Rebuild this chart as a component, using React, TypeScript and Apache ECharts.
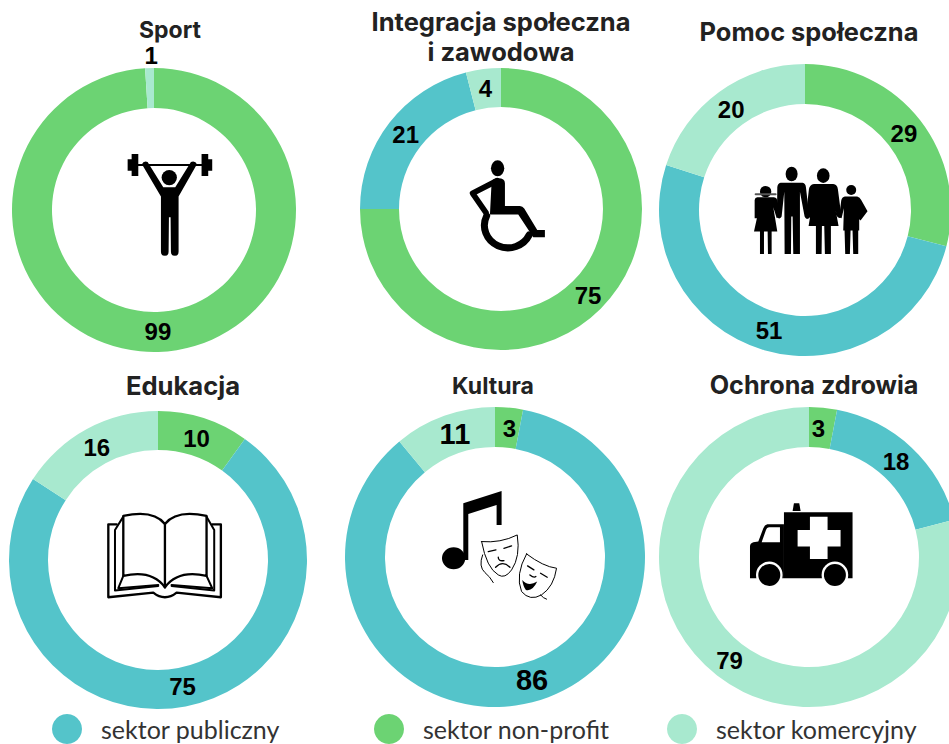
import React, { useEffect, useRef } from "react";
import * as echarts from "echarts";

const sectorNames = ["sektor non-profit", "sektor publiczny", "sektor komercyjny"];
const sectorColors = ["#6CD373", "#54C4CA", "#A8E9CF"];

const sportValues = [99, 0, 1];
const integracjaValues = [75, 21, 4];
const pomocValues = [29, 51, 20];
const edukacjaValues = [10, 75, 16];
const kulturaValues = [3, 86, 11];
const ochronaValues = [3, 18, 79];

const panelTitles = [
  "Sport",
  "Integracja społeczna\ni zawodowa",
  "Pomoc społeczna",
  "Edukacja",
  "Kultura",
  "Ochrona zdrowia",
];

type P = { d: string; fill?: string; stroke?: string; w?: number };

const circle = (cx: number, cy: number, rx: number, ry = rx) =>
  `M ${cx - rx} ${cy} A ${rx} ${ry} 0 1 1 ${cx + rx} ${cy} A ${rx} ${ry} 0 1 1 ${cx - rx} ${cy} Z`;

const K = "#000";
const W = "#fff";

const icons: { x: number; y: number; parts: P[] }[] = [
  {
    x: 100,
    y: 130,
    parts: [
      { d: "M 115 105 L 305 105", stroke: K, w: 6 },
      { d: "M 95 72 L 115 72 L 115 138 L 95 138 Z M 83 88 L 95 88 L 95 122 L 83 122 Z M 305 72 L 325 72 L 325 138 L 305 138 Z M 325 88 L 337 88 L 337 122 L 325 122 Z", fill: K },
      { d: circle(208, 143, 23), fill: K },
      { d: "M 126 103 Q 130 92 143 96 L 190 172 L 226 172 L 273 96 Q 287 92 291 103 L 236 200 L 236 365 Q 236 378 225 378 Q 213 378 213 365 L 212 262 L 207 262 L 206 365 Q 206 378 195 378 Q 183 378 183 365 L 183 200 Z", fill: K },
    ],
  },
  {
    x: 440,
    y: 140,
    parts: [
      { d: circle(173, 85, 20, 24), fill: K },
      { d: "M 172 122 L 98 160 L 138 218", stroke: K, w: 17 },
      { d: "M 155 125 Q 160 115 175 115 Q 195 115 195 130 L 195 198 L 240 198 Q 248 198 253 206 L 292 270 L 315 270 L 315 292 L 280 292 L 235 224 L 150 224 Z", fill: K },
      { d: "M 140 228 A 63 60 0 1 0 268 285", stroke: K, w: 21 },
    ],
  },
  {
    x: 740,
    y: 150,
    parts: [
      { d: circle(77, 125, 17), fill: K },
      { d: "M 47 133 L 107 133", stroke: "#555", w: 6 },
      { d: "M 52 142 L 102 142 Q 110 142 112 150 L 122 200 L 110 204 L 100 172 L 112 245 L 95 245 L 95 312 L 84 312 L 83 245 L 72 245 L 72 312 L 60 312 L 60 245 L 42 245 L 58 172 L 56 205 L 44 205 L 44 150 Q 45 142 52 142 Z", fill: K },
      { d: circle(155, 72, 18, 22), fill: K },
      { d: "M 122 98 L 188 98 Q 197 100 198 112 L 208 200 Q 208 207 201 207 Q 196 206 194 200 L 180 125 L 180 312 L 160 312 L 158 200 L 154 200 L 153 312 L 134 312 L 133 125 L 125 200 Q 122 207 116 205 Q 110 204 111 195 L 112 112 Q 113 100 122 98 Z", fill: K },
      { d: circle(250, 77, 19, 22), fill: K },
      { d: "M 222 102 L 280 102 Q 292 103 294 118 L 304 195 Q 304 204 298 204 Q 292 204 290 195 L 278 130 L 296 228 L 273 228 L 273 312 L 255 312 L 253 228 L 246 228 L 245 312 L 228 312 L 228 228 L 206 228 L 222 130 L 212 200 Q 208 207 202 205 Q 196 202 198 195 L 207 118 Q 209 104 222 102 Z", fill: K },
      { d: circle(334, 120, 15), fill: K },
      { d: "M 315 140 L 352 140 Q 360 142 364 150 L 383 184 L 362 212 L 355 205 L 358 190 L 358 242 L 355 242 L 355 312 L 340 312 L 338 242 L 332 242 L 330 312 L 316 312 L 314 242 L 310 242 L 312 175 L 305 205 Q 300 205 298 200 L 304 152 Q 306 142 315 140 Z", fill: K },
    ],
  },
  {
    x: 95,
    y: 500,
    parts: [
      { d: "M 65 73 L 40 73 L 40 292 L 175 278 Q 192 292 210 292 Q 228 292 245 278 L 378 292 L 378 73 L 352 73", stroke: K, w: 7 },
      { d: "M 85 50 L 60 90 L 60 272 L 190 258", stroke: K, w: 6 },
      { d: "M 335 50 L 358 90 L 358 272 L 230 258", stroke: K, w: 6 },
      { d: "M 85 48 Q 175 28 210 72 Q 245 28 335 48 L 335 228 Q 250 208 210 262 Q 170 208 85 228 Z", stroke: K, w: 7 },
      { d: "M 210 72 L 210 262", stroke: K, w: 7 },
      { d: "M 85 228 L 70 265 L 190 255 M 335 228 L 352 265 L 230 255", stroke: K, w: 6 },
    ],
  },
  {
    x: 430,
    y: 480,
    parts: [
      { d: circle(71, 235, 35, 33), fill: K },
      { d: "M 100 70 L 215 33 L 215 135 L 200 135 L 200 75 L 115 102 L 115 240 L 100 240 Z", fill: K },
      { d: "M 155 185 Q 212 190 262 165 Q 272 230 245 270 Q 225 298 205 285 Q 170 265 155 185 Z", fill: W, stroke: K, w: 3 },
      { d: "M 158 225 Q 145 260 165 278 Q 180 290 190 308", stroke: K, w: 3 },
      { d: "M 175 215 L 198 210 M 222 205 L 245 198 M 205 232 Q 205 245 222 242 M 197 262 Q 218 240 240 262", stroke: K, w: 4 },
      { d: "M 290 222 Q 340 260 380 265 Q 372 320 335 345 Q 300 365 275 335 Q 255 285 290 222 Z", fill: W, stroke: K, w: 3 },
      { d: "M 332 345 Q 340 355 350 358", stroke: K, w: 3 },
      { d: "M 293 258 L 312 270 M 332 280 L 352 292 M 300 285 Q 312 295 318 290", stroke: K, w: 4 },
      { d: "M 277 300 Q 295 322 322 305 Q 308 335 288 330 Q 280 320 277 300 Z", fill: K },
    ],
  },
  {
    x: 740,
    y: 495,
    parts: [
      { d: "M 132 52 L 338 52 L 338 250 L 132 250 Z", fill: K },
      { d: "M 158 48 L 162 25 L 178 25 L 182 48 Z", fill: K },
      { d: "M 132 88 L 82 88 Q 74 90 70 100 L 55 140 L 40 142 Q 30 145 30 155 L 30 250 L 132 250 Z", fill: K },
      { d: "M 87 97 L 120 97 L 120 142 L 65 142 L 78 105 Q 80 97 87 97 Z", fill: W },
      { d: "M 210 65 L 263 65 L 263 105 L 302 105 L 302 155 L 263 155 L 263 192 L 210 192 L 210 155 L 173 155 L 173 105 L 210 105 Z", fill: W },
      { d: circle(88, 240, 40), fill: W },
      { d: circle(88, 240, 33), fill: K },
      { d: circle(285, 240, 40), fill: W },
      { d: circle(285, 240, 33), fill: K },
    ],
  },
];

const panelLayout = [
  { c: [154, 210], r: [102, 142], tx: 170, ty: 15, fs: 23 },
  { c: [501, 209], r: [102, 141], tx: 501, ty: 6, fs: 25.5 },
  { c: [805, 210], r: [106, 146], tx: 809, ty: 16, fs: 25.4 },
  { c: [158, 560], r: [110, 149], tx: 183, ty: 370, fs: 25.6 },
  { c: [495, 557], r: [110, 150], tx: 493, ty: 371, fs: 23 },
  { c: [809, 557], r: [110, 150], tx: 814, ty: 370, fs: 25.2 },
];

// label nudges per panel, per sector [non-profit, publiczny, komercyjny]
const labelNudges = [
  [[0, -3], [0, 0], [1, -30]],
  [[-1, -2], [3, 2], [0, 3]],
  [[-3, 3], [0, -3], [2, 4]],
  [[-2, 5], [0, -4], [2, 4]],
  [[2, 4], [4, -6], [5, 2]],
  [[-3, 4], [-4, 1], [2, -2]],
];

const allValues = [sportValues, integracjaValues, pomocValues, edukacjaValues, kulturaValues, ochronaValues];
const legendLefts = [52, 374, 667];
const legendOrder = [1, 0, 2];

const TITLE_FONT = "Inter";
const LEGEND_FONT = "Lato";
const LABEL_FONT = "'Liberation Sans'";

export default function App() {
  const ref = useRef<HTMLDivElement>(null);
  useEffect(() => {
    if (!ref.current) return;
    const chart = echarts.init(ref.current, undefined, { renderer: "svg" });
    const graphics: any[] = [];
    icons.forEach((ic, i) => {
      ic.parts.forEach((p, j) => {
        echarts.graphic.registerShape(`ic_${i}_${j}`, echarts.graphic.extendPath(p.d, {}) as any);
      });
    });
    icons.forEach((ic, i) => {
      graphics.push({
        type: "group",
        x: ic.x,
        y: ic.y,
        scaleX: 1 / 3,
        scaleY: 1 / 3,
        silent: true,
        z: 20,
        children: ic.parts.map((p, j) => ({
          type: `ic_${i}_${j}`,
          style: {
            fill: p.fill ?? "none",
            stroke: p.stroke ?? "none",
            lineWidth: p.w ?? 0,
            lineCap: "round",
            lineJoin: "round",
          },
        })),
      });
    });
    chart.setOption({
      animation: false,
      backgroundColor: "#fff",
      color: sectorColors,
      title: panelTitles.map((t, i) => ({
        text: t,
        left: panelLayout[i].tx,
        top: panelLayout[i].ty,
        textAlign: "center",
        padding: 0,
        textStyle: { fontFamily: TITLE_FONT, fontWeight: "bold", fontSize: panelLayout[i].fs, lineHeight: 30, color: "#222" },
      })),
      legend: legendOrder.map((idx, i) => ({
        data: [sectorNames[idx]],
        left: legendLefts[i],
        top: 714,
        padding: 0,
        icon: "circle",
        itemWidth: 32,
        itemHeight: 30,
        selectedMode: false,
        textStyle: { fontFamily: LEGEND_FONT, fontSize: 25, color: "#333", padding: [0, 0, 0, 13] },
      })),
      series: allValues.map((vals, i) => ({
        type: "pie",
        center: panelLayout[i].c,
        radius: panelLayout[i].r,
        startAngle: 90,
        clockwise: true,
        silent: true,
        emphasis: { disabled: true },
        labelLine: { show: false },
        label: {
          show: true,
          position: "inside",
          formatter: "{c}",
          fontFamily: LABEL_FONT,
          fontWeight: "bold",
          fontSize: 24,
          color: "#000",
        },
        data: sectorNames
          .map((name, k) => ({
            name,
            value: vals[k],
            itemStyle: { color: sectorColors[k] },
            label: {
              offset: labelNudges[i][k],
              fontSize: i === 4 && k > 0 ? 29 : 24,
            },
          }))
          .filter((d) => d.value > 0),
      })),
      graphic: { elements: graphics },
    });
    return () => chart.dispose();
  }, []);
  return <div ref={ref} style={{ position: "absolute", left: 0, top: 0, width: 949, height: 744 }} />;
}
